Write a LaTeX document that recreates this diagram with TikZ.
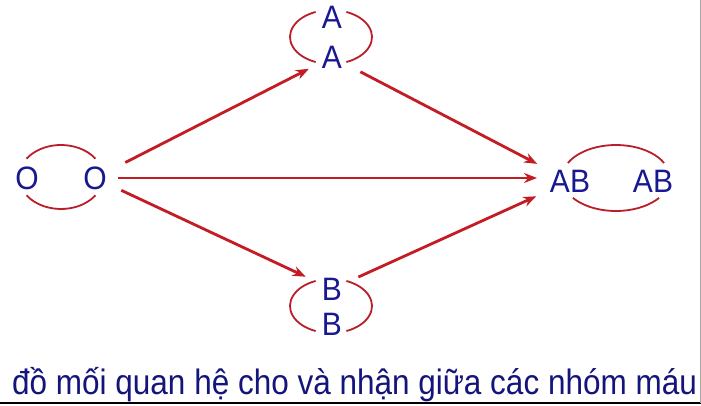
\documentclass[tikz,border=0pt]{standalone}
\usepackage{fontspec}
\setmainfont{Liberation Sans}
\usepackage{tikz}
\usetikzlibrary{arrows.meta,calc}
\definecolor{bloodred}{RGB}{196,28,36}
\definecolor{ringred}{RGB}{185,30,42}
\definecolor{typeblue}{RGB}{24,24,145}

\begin{document}
\begin{tikzpicture}[x=1pt,y=1pt,>={Stealth[length=13pt,width=10pt]},
	blood/.style={font=\fontsize{30}{30}\selectfont, text=typeblue, inner sep=2pt, yscale=1.08},
	give/.style={->, bloodred, line width=2.8pt},
	ring/.style={ringred, line width=1.8pt}]
\useasboundingbox (0,0) rectangle (701,406);
\fill[white] (0,0) rectangle (701,406);

% Blood groups
\node[blood] (oL) at (27,228) {O};
\node[blood] (oR) at (95,228) {O};
\node[blood] (aT) at (332,389) {A};
\node[blood] (aB) at (332,349) {A};
\node[blood] (bT) at (332,117) {B};
\node[blood] (bB) at (332,82) {B};
\node[blood] (abL) at (570,225) {AB};
\node[blood] (abR) at (653,225) {AB};

% Rings round each pair
\coordinate (oC) at (61,229);
\coordinate (aC) at (331,369);
\coordinate (bC) at (331,100);
\coordinate (abC) at (616,228);
\draw[ring] ($(oC)+(35:42 and 32)$) arc[start angle=35, end angle=145, x radius=42pt, y radius=32pt];
\draw[ring] ($(oC)+(215:42 and 32)$) arc[start angle=215, end angle=325, x radius=42pt, y radius=32pt];
\draw[ring] ($(aC)+(112:41 and 27)$) arc[start angle=112, end angle=248, x radius=41pt, y radius=27pt];
\draw[ring] ($(aC)+(68:41 and 27)$) arc[start angle=68, end angle=-68, x radius=41pt, y radius=27pt];
\draw[ring] ($(bC)+(112:41 and 27)$) arc[start angle=112, end angle=248, x radius=41pt, y radius=27pt];
\draw[ring] ($(bC)+(68:41 and 27)$) arc[start angle=68, end angle=-68, x radius=41pt, y radius=27pt];
\draw[ring] ($(abC)+(27:54 and 33)$) arc[start angle=27, end angle=153, x radius=54pt, y radius=33pt];
\draw[ring] ($(abC)+(217:54 and 33)$) arc[start angle=217, end angle=323, x radius=54pt, y radius=33pt];

% Who can give to whom
\draw[give, shorten <=34pt, shorten >=26pt] (oR.center) -- (aB.center);
\draw[give, shorten <=23pt, shorten >=33pt] (oR.center) -- (oR.center -| abL.center);
\draw[give, shorten <=29pt, shorten >=29pt] (oR.center) -- (bT.center);
\draw[give, shorten <=32pt, shorten >=37pt] (aB.center) -- (abL.center);
\draw[give, shorten <=29pt, shorten >=37pt] (bT.center) -- (abL.center);

% Caption
\node[anchor=base west, inner sep=0pt, text=typeblue!85!black, font=\fontsize{31.5}{31.5}\selectfont, yscale=1.12] (caption) at (12,11)
	{đồ mối quan hệ cho và nhận giữa các nhóm máu};

% Frame edges
\draw[black, line width=2pt] (0,3) -- (701,3);
\draw[black!35, line width=1pt] (700.5,3) -- (700.5,406);
\end{tikzpicture}
\end{document}
